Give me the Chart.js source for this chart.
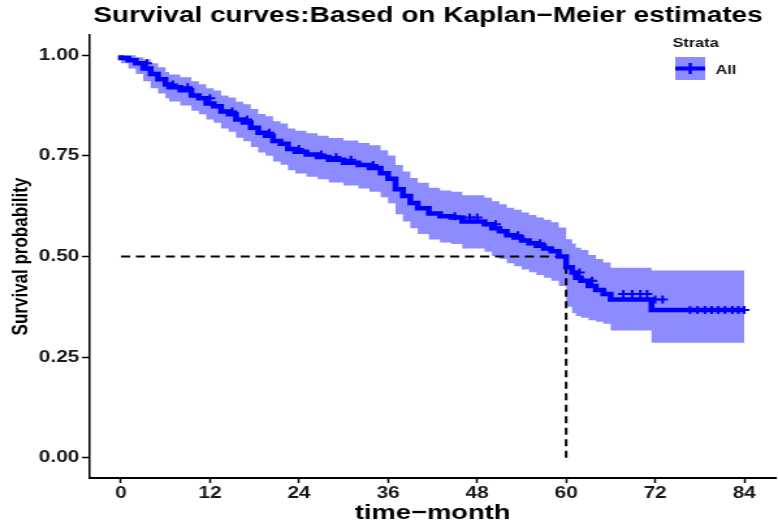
<!DOCTYPE html>
<html>
<head>
<meta charset="utf-8">
<script src="https://cdn.jsdelivr.net/npm/chart.js@4"></script>
<style>
  html, body { margin: 0; padding: 0; background: #fff; overflow: hidden; }
  /* the reference is stretched sideways, so the canvas is too */
  #wrap { width: 598px; height: 526px; transform: scale(1.301, 1); transform-origin: 0 0; }
</style>
</head>
<body>
<div id="wrap"><canvas id="km-chart" width="598" height="526"></canvas></div>
<script>
const FONT = "'Liberation Sans', Arial, sans-serif";
const BLUE = '#0000ff';
const BAND = 'rgb(140,140,255)';

// Kaplan-Meier estimate (months)
const times = [0, 1, 2, 3, 4, 5, 6, 6.5, 8, 9.5, 10.5, 11.5, 12.5, 13.5, 14.5, 15.5, 16.5, 17.5,
  18.5, 19.5, 20.5, 21.5, 22.5, 23.5, 25, 26.5, 28, 30, 32, 33.5, 35, 36, 37, 38, 39, 40, 41.5, 43,
  44.5, 46, 49, 50, 51, 52, 53, 54, 55, 56, 57, 58, 59, 60, 60.8, 61.3, 62, 63, 64, 65,
  66, 71.5, 73.5, 84];
const survival = [1.000, 0.993, 0.987, 0.980, 0.967, 0.953, 0.940, 0.927,
  0.920, 0.913, 0.900, 0.893, 0.880, 0.873, 0.860, 0.853, 0.840, 0.833,
  0.820, 0.807, 0.800, 0.787, 0.780, 0.767, 0.760, 0.753, 0.747, 0.740,
  0.733, 0.727, 0.720, 0.707, 0.693, 0.667, 0.650, 0.633, 0.620, 0.607,
  0.600, 0.597, 0.587, 0.580, 0.570, 0.563, 0.553, 0.547, 0.540, 0.533,
  0.527, 0.520, 0.513, 0.500, 0.473, 0.460, 0.447, 0.440, 0.427, 0.417,
  0.407, 0.393, 0.367, 0.367];
const upperCI = [1.000, 1.000, 1.000, 0.995, 0.990, 0.980, 0.970, 0.958,
  0.952, 0.945, 0.935, 0.928, 0.918, 0.912, 0.900, 0.895, 0.884, 0.878,
  0.866, 0.854, 0.848, 0.836, 0.830, 0.818, 0.812, 0.806, 0.800, 0.794,
  0.788, 0.782, 0.776, 0.764, 0.751, 0.727, 0.711, 0.695, 0.683, 0.671,
  0.664, 0.661, 0.652, 0.646, 0.637, 0.630, 0.621, 0.616, 0.609, 0.603,
  0.597, 0.591, 0.585, 0.572, 0.543, 0.532, 0.522, 0.516, 0.504, 0.494,
  0.485, 0.472, 0.465, 0.465];
const lowerCI = [1.000, 0.980, 0.967, 0.953, 0.935, 0.918, 0.905, 0.893,
  0.885, 0.875, 0.862, 0.853, 0.840, 0.832, 0.818, 0.810, 0.795, 0.786,
  0.772, 0.758, 0.750, 0.736, 0.728, 0.714, 0.706, 0.698, 0.692, 0.684,
  0.676, 0.669, 0.661, 0.647, 0.632, 0.605, 0.587, 0.570, 0.556, 0.542,
  0.535, 0.531, 0.520, 0.512, 0.501, 0.494, 0.483, 0.476, 0.468, 0.461,
  0.454, 0.447, 0.440, 0.427, 0.375, 0.360, 0.352, 0.348, 0.342, 0.338,
  0.333, 0.316, 0.286, 0.286];

// censored observations (+ marks)
const censorTimes = [3.5, 7, 9, 12, 15, 17, 20, 24, 27, 29, 31, 34, 45, 47, 48, 50.5, 53.5, 56.5,
  61.8, 63.5, 67.7, 68.9, 70, 70.9, 72, 73, 76.7, 77.7, 78.7, 79.6, 80.5, 81.4, 82.4, 83.2, 84];
const censorSurv = [0.980, 0.927, 0.920, 0.893, 0.860, 0.840, 0.807, 0.767, 0.753, 0.747, 0.740, 0.727,
  0.600, 0.597, 0.597, 0.580, 0.553, 0.533, 0.460, 0.440, 0.407, 0.407, 0.407, 0.407, 0.393, 0.393,
  0.367, 0.367, 0.367, 0.367, 0.367, 0.367, 0.367, 0.367, 0.367];

const medianTime = 60;
const medianSurv = 0.5;

const xTicks = [0, 12, 24, 36, 48, 60, 72, 84];
const yTicks = [0, 0.25, 0.5, 0.75, 1];

const toPoints = (xs, ys) => xs.map((x, i) => ({ x, y: ys[i] }));

// title and "Strata" legend, drawn on top
const kmDecor = {
  id: 'kmDecor',
  afterDraw(chart) {
    const c = chart.ctx;
    c.save();
    c.fillStyle = '#000';
    c.textBaseline = 'alphabetic';
    c.textAlign = 'center';
    c.font = `bold 21.5px ${FONT}`;
    c.fillText('Survival curves:Based on Kaplan\u2212Meier estimates', 329, 22);

    c.textAlign = 'left';
    c.fillStyle = '#111';
    c.font = `bold 12.5px ${FONT}`;
    c.fillText('Strata', 517, 47);
    c.fillStyle = BAND;
    c.fillRect(519, 57, 23, 23);
    c.strokeStyle = BLUE;
    c.lineWidth = 4;
    c.beginPath();
    c.moveTo(519, 68.5);
    c.lineTo(542, 68.5);
    c.stroke();
    c.lineWidth = 2.5;
    c.beginPath();
    c.moveTo(530.5, 63);
    c.lineTo(530.5, 74);
    c.stroke();
    c.fillStyle = '#111';
    c.font = `bold 12.5px ${FONT}`;
    c.fillText('All', 550, 74);
    c.restore();
  },
};

const ctx = document.getElementById('km-chart');

new Chart(ctx, {
  type: 'line',
  data: {
    datasets: [
      {
        label: 'upper',
        data: toPoints(times, upperCI),
        stepped: 'after',
        borderWidth: 0,
        pointRadius: 0,
        backgroundColor: BAND,
        fill: '+1',
        order: 3,
      },
      {
        label: 'lower',
        data: toPoints(times, lowerCI),
        stepped: 'after',
        borderWidth: 0,
        pointRadius: 0,
        fill: false,
        order: 3,
      },
      {
        label: 'median-h',
        data: [{ x: 0, y: medianSurv }, { x: medianTime, y: medianSurv }],
        borderColor: '#000',
        borderWidth: 2,
        borderDash: [7, 4.5],
        pointRadius: 0,
        fill: false,
        order: 2,
      },
      {
        label: 'median-v',
        data: [{ x: medianTime, y: 0 }, { x: medianTime, y: medianSurv }],
        borderColor: '#000',
        borderWidth: 2,
        borderDash: [7, 4.5],
        pointRadius: 0,
        fill: false,
        order: 2,
      },
      {
        label: 'All',
        data: toPoints(times, survival),
        stepped: 'after',
        borderColor: BLUE,
        borderWidth: 4.5,
        pointRadius: 0,
        fill: false,
        order: 1,
      },
      {
        label: 'censor',
        data: toPoints(censorTimes, censorSurv),
        showLine: false,
        pointStyle: 'cross',
        pointRadius: 4,
        pointBorderWidth: 2,
        pointBorderColor: BLUE,
        order: 0,
      },
    ],
  },
  options: {
    responsive: false,
    animation: false,
    devicePixelRatio: 1,
    layout: { autoPadding: false, padding: { top: 35, right: 2, left: 0, bottom: 0 } },
    plugins: {
      legend: { display: false },
      title: { display: false },
      tooltip: { enabled: false },
    },
    scales: {
      x: {
        type: 'linear',
        min: -4.2,
        max: 88.2,
        afterBuildTicks: s => { s.ticks = xTicks.map(v => ({ value: v })); },
        afterFit: s => { s.height = 48; },
        grid: { drawOnChartArea: false, drawTicks: true, tickLength: 5, tickColor: '#000', tickWidth: 1.5 },
        border: { display: true, color: '#000', width: 2 },
        ticks: {
          color: '#1a1a1a',
          font: { family: FONT, size: 16, weight: 'bold' },
          padding: 1,
          maxRotation: 0,
          autoSkip: false,
        },
        title: {
          display: true,
          text: 'time\u2212month',
          color: '#000',
          font: { family: FONT, size: 21, weight: 'bold' },
          padding: { top: 0, bottom: 0 },
        },
      },
      y: {
        min: -0.05,
        max: 1.05,
        afterBuildTicks: s => { s.ticks = yTicks.map(v => ({ value: v })); },
        afterFit: s => { s.width = 69; },
        grid: { drawOnChartArea: false, drawTicks: true, tickLength: 6, tickColor: '#000', tickWidth: 1.5 },
        border: { display: true, color: '#000', width: 1.5 },
        ticks: {
          color: '#1a1a1a',
          font: { family: FONT, size: 16, weight: 'bold' },
          padding: 2,
          callback: v => v.toFixed(2),
        },
        title: {
          display: true,
          text: 'Survival probability',
          color: '#000',
          font: { family: FONT, size: 17, weight: 'bold' },
          padding: { top: 6, bottom: 0 },
        },
      },
    },
  },
  plugins: [kmDecor],
});
</script>
</body>
</html>
